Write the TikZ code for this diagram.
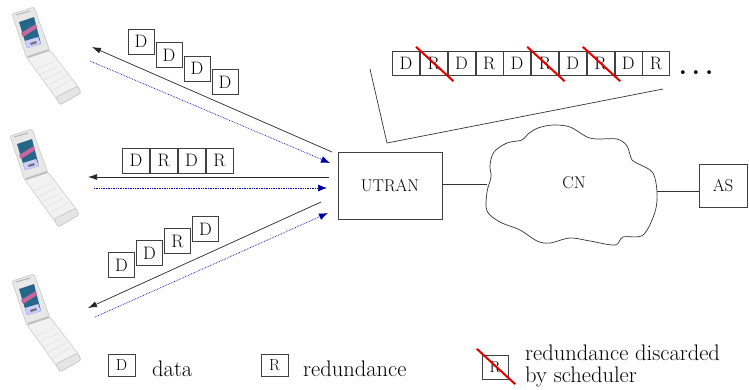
\documentclass[tikz,border=0pt]{standalone}
\usepackage{tikz}
\usetikzlibrary{positioning}
\usetikzlibrary{arrows.meta,calc}

\tikzset{
  pkt/.style={draw=black!75, minimum width=26pt, minimum height=25pt, inner sep=0pt,
    font=\fontsize{18}{18}\selectfont},
  qpkt/.style={pkt, minimum width=27pt, minimum height=24pt},
  keybox/.style={pkt, minimum width=27pt, minimum height=22pt, font=\fontsize{16}{16}\selectfont},
  netbox/.style={draw=black!75, inner sep=0pt, font=\fontsize{17}{17}\selectfont},
  wire/.style={black!80, line width=0.7pt},
  downlink/.style={black!85, line width=0.7pt, -{Latex[length=9pt,width=6pt]}},
  uplink/.style={blue!65!black, densely dotted, line width=0.7pt, -{Latex[length=9pt,width=7pt]}},
  discard/.style={red!90!black, line width=2pt},
  keytext/.style={anchor=base west, inner sep=0pt, font=\fontsize{22.5}{22}\selectfont},
  pics/flipphone/.style={code={
    % lid with the screen
    \filldraw[fill=red!4!black!9, draw=black!22, line width=0.6pt, rounded corners=2pt]
      (12,14) -- (34,7) -- (50,51) -- (27,59) -- cycle;
    \draw[black!30, line width=1pt] (16,15) -- (30,11);
    \fill[blue!35!cyan!45!black!85] (19,22) -- (34,17) -- (41,44) -- (27,48) -- cycle;
    \fill[red!65!blue!60] (21,33) -- (36,24) -- (37,28) -- (23,37) -- cycle;
    \fill[blue!20!white] (25,41) -- (38,37) -- (41,44) -- (27,48) -- cycle;
    \fill[black!55] (30,43) -- (36,41) -- (37,43) -- (31,45) -- cycle;
    % keypad half
    \filldraw[fill=black!5, draw=black!20, line width=0.6pt, rounded corners=2pt]
      (27,58) -- (50,50) -- (79,88) -- (58,101) -- cycle;
    \foreach \k in {0.2,0.35,0.5,0.65,0.8}
      \draw[black!12, line width=0.5pt] ($(30,62)!\k!(58,98)$) -- ($(49,55)!\k!(75,87)$);
    \draw[black!25, line width=2pt] (28,57) -- (49,50);
    % bottom lip
    \filldraw[fill=black!10, draw=black!25, line width=0.6pt, rounded corners=1.5pt]
      (56,97) -- (78,86) -- (81,93) -- (60,105) -- cycle;
  }}
}

\begin{document}
\begin{tikzpicture}[x=1pt, y=-1pt]
  \useasboundingbox (0,0) rectangle (749,389);

  % handsets
  \pic at (0,0) {flipphone};
  \pic at (-2,122) {flipphone};
  \pic at (0,267) {flipphone};

  % network side
  \node[netbox, minimum width=104pt, minimum height=67pt] (utran) at (390,185.5) {UTRAN};
  \node[netbox, minimum width=48pt, minimum height=43pt] (as) at (723,185.5) {AS};
  \draw[wire] plot[smooth cycle, tension=0.55] coordinates {
    (487,192) (491,177) (490,165) (494,152) (507,143) (522,140) (528,134) (538,128)
    (553,125) (570,127) (587,137) (598,139) (617,139) (627,146) (632,160) (641,165)
    (653,173) (657,192) (655,212) (643,235) (623,237) (615,245) (590,241) (570,238)
    (550,243) (537,241) (520,230) (500,222) (487,211)};
  \node[font=\fontsize{17}{17}\selectfont] (cn) at (574,183) {CN};
  \coordinate (cnw) at (487,184);
  \coordinate (cne) at (657,191);
  \draw[wire] (utran.east |- cnw) -- (cnw);
  \draw[wire] (cne) -- (cne -| as.west);

  % scheduler queue
  \foreach \l [count=\i] in {D,R,D,R,D,R,D,R,D,R}
    \node[qpkt] (q\i) at ({405.9+27.8*(\i-1)},63) {\l};
  \node[anchor=base, inner sep=0pt, font=\fontsize{26}{26}\selectfont\bfseries] (more) at (696,74)
    {.\hspace{5pt}.\hspace{5pt}.};
  \foreach \i in {2,6,8}
    \draw[discard] ([shift={(-4,-4)}]q\i.north west) -- ([shift={(6,6)}]q\i.south east);
  \draw[wire] (370,69) -- (387,143) -- (663,89);

  % links to the handsets
  \coordinate (t1) at (332,152); \coordinate (t2) at (92,47);
  \coordinate (t3) at (90,61);   \coordinate (t4) at (330,163);
  \coordinate (m1) at (329,177); \coordinate (m2) at (88,177);
  \coordinate (m3) at (94,188);  \coordinate (m4) at (327,188);
  \coordinate (l1) at (321,202); \coordinate (l2) at (88,308);
  \coordinate (l3) at (95,317);  \coordinate (l4) at (328,213);
  \draw[downlink] (t1) -- (t2);
  \draw[uplink] (t3) -- (t4);
  \draw[downlink] (m1) -- (m2);
  \draw[uplink] (m3) -- (m4);
  \draw[downlink] (l1) -- (l2);
  \draw[uplink] (l3) -- (l4);

  % packets on each link
  \foreach \l [count=\i] in {D,D,D,D}
    \node[pkt] (a\i) at ({141+28*(\i-1)},{41.5+13.5*(\i-1)}) {\l};
  \foreach \l [count=\i] in {D,R,D,R}
    \node[pkt, minimum width=27pt] (b\i) at ({136+27.8*(\i-1)},160.5) {\l};
  \foreach \l [count=\i] in {D,D,R,D}
    \node[pkt] (c\i) at ({121.5+28*(\i-1)},{265-12*(\i-1)}) {\l};

  % legend
  \node[keybox] (kd) at (121.5,365) {D};
  \node[keytext] (kdt) at (152,376) {data};
  \node[keybox] (kr) at (274.5,365) {R};
  \node[keytext] (krt) at (303,376) {redundance};
  \node[keybox, minimum width=26pt, minimum height=24pt] (kx) at (495,367) {R};
  \draw[discard] ([shift={(-5,-6)}]kx.north west) -- ([shift={(7,5)}]kx.south east);
  \node[keytext, anchor=north west, align=left] (kxt) at (525,344.5)
    {redundance discarded\\by scheduler};
\end{tikzpicture}
\end{document}
